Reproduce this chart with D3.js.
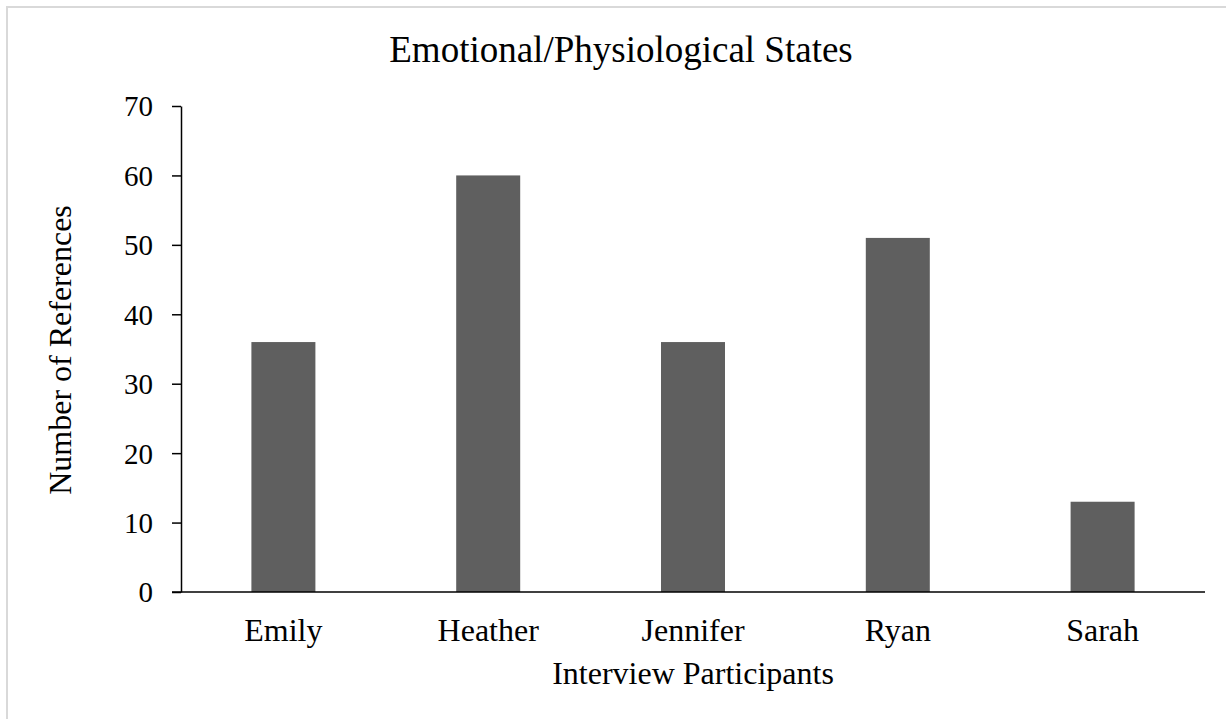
<!DOCTYPE html>
<html>
<head>
<meta charset="utf-8">
<script src="https://cdn.jsdelivr.net/npm/d3@7"></script>
<style>
  html, body { margin: 0; padding: 0; background: #fff; }
  svg { display: block; }
  text { font-family: "Liberation Serif", "Times New Roman", serif; fill: #000; }
</style>
</head>
<body>
<svg id="chart" width="1226" height="719"></svg>
<script>
// Data: number of coded references per interview participant
const participants = ["Emily", "Heather", "Jennifer", "Ryan", "Sarah"];
const references = [36, 60, 36, 51, 13];
const yTicks = [0, 10, 20, 30, 40, 50, 60, 70];

const chartTitle = "Emotional/Physiological States";
const xTitle = "Interview Participants";
const yTitle = "Number of References";

const svg = d3.select("#chart");
const W = 1226, H = 719;
const margin = { top: 106, right: 21, bottom: 127, left: 181 };

// Outer frame
svg.append("rect")
  .attr("x", 7).attr("y", 7)
  .attr("width", W).attr("height", H)
  .attr("fill", "#fff")
  .attr("stroke", "#d9d9d9")
  .attr("stroke-width", 2);

const x = d3.scaleBand()
  .domain(participants)
  .range([margin.left, W - margin.right])
  .paddingInner(0.6875)
  .paddingOuter(0.34375);

const y = d3.scaleLinear()
  .domain([0, 70])
  .range([H - margin.bottom, margin.top]);

// Bars
svg.append("g")
  .selectAll("rect")
  .data(participants)
  .join("rect")
  .attr("x", d => x(d))
  .attr("y", (d, i) => y(references[i]))
  .attr("width", x.bandwidth())
  .attr("height", (d, i) => y(0) - y(references[i]))
  .attr("fill", "#5f5f5f");

// Y axis
const yAxis = svg.append("g")
  .attr("transform", `translate(${margin.left},0)`)
  .call(d3.axisLeft(y).tickValues(yTicks).tickSize(9).tickPadding(19).tickSizeOuter(0));
yAxis.select(".domain").attr("stroke", "#000").attr("stroke-width", 1.5);
yAxis.selectAll(".tick line").attr("stroke", "#000").attr("stroke-width", 1.5);
yAxis.selectAll(".tick text")
  .style("font-family", '"Liberation Serif", "Times New Roman", serif')
  .style("font-size", "29px")
  .attr("dy", "0.34em");

// X axis baseline, extending left to the tick end
const xAxisY = y(0);
svg.append("line")
  .attr("x1", margin.left - 9).attr("x2", W - margin.right)
  .attr("y1", xAxisY).attr("y2", xAxisY)
  .attr("stroke", "#000").attr("stroke-width", 1.5);

// Category labels
svg.append("g")
  .selectAll("text")
  .data(participants)
  .join("text")
  .attr("x", d => x(d) + x.bandwidth() / 2)
  .attr("y", 641)
  .attr("text-anchor", "middle")
  .style("font-size", "32px")
  .text(d => d);

// Titles
svg.append("text")
  .attr("x", 621).attr("y", 62)
  .attr("text-anchor", "middle")
  .style("font-size", "37px")
  .text(chartTitle);

svg.append("text")
  .attr("x", 693).attr("y", 684)
  .attr("text-anchor", "middle")
  .style("font-size", "32px")
  .text(xTitle);

svg.append("text")
  .attr("transform", "translate(71,350) rotate(-90)")
  .attr("text-anchor", "middle")
  .style("font-size", "32px")
  .text(yTitle);
</script>
</body>
</html>
